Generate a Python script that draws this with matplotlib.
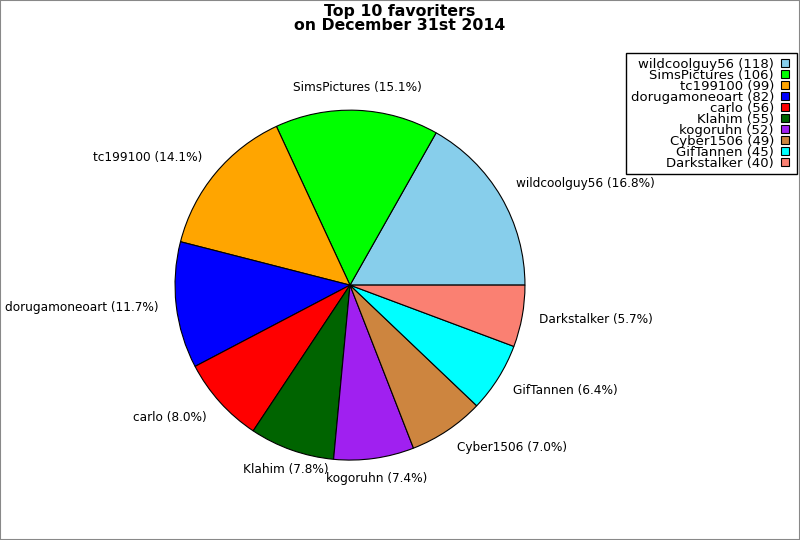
import matplotlib
matplotlib.use("Agg")
import matplotlib.pyplot as plt
from matplotlib.patches import Rectangle
from matplotlib.lines import Line2D
import numpy as np

names = ["wildcoolguy56", "SimsPictures", "tc199100", "dorugamoneoart", "carlo",
         "Klahim", "kogoruhn", "Cyber1506", "GifTannen", "Darkstalker"]
counts = [118, 106, 99, 82, 56, 55, 52, 49, 45, 40]
colors = ["#87ceeb", "#00ff00", "#ffa500", "#0000ff", "#ff0000",
          "#006400", "#a020f0", "#cd853f", "#00ffff", "#fa8072"]

total = sum(counts)
labels = [f"{n} ({c / total * 100:.1f}%)" for n, c in zip(names, counts)]

fig = plt.figure(figsize=(8, 5.4), dpi=100)
fig.patches.append(Rectangle((0, 0), 1, 1, transform=fig.transFigure, fill=False,
                             edgecolor="#888888", linewidth=1.5))
ax = fig.add_axes([0.21875, 0.148, 0.4375, 0.648])
wedges, texts = ax.pie(counts, labels=labels, colors=colors, startangle=0,
                       counterclock=True, labeldistance=1.1,
                       wedgeprops=dict(edgecolor="black", linewidth=0.8),
                       textprops=dict(fontsize=8.7))
ax.set_xlim(-1, 1)
ax.set_ylim(-1, 1)
ax.set_aspect("equal")
px = 1 / 175.0  # one pixel in data units
for w, t in zip(wedges, texts):
    t.set_clip_on(False)
    ang = np.deg2rad((w.theta1 + w.theta2) / 2)
    c, s = np.cos(ang), np.sin(ang)
    x, y = t.get_position()
    if abs(c) < 0.4:
        t.set_ha("center")
    elif c > 0:
        t.set_ha("left")
    else:
        t.set_ha("right")
    if s > 0.3:
        t.set_va("baseline")
        y += 1.5 * px
    elif s < -0.3:
        t.set_va("top")
        y += 3.5 * px
    else:
        t.set_va("center")
    t.set_position((x, y))

fig.suptitle("Top 10 favoriters\non December 31st 2014", fontsize=11.3,
             fontweight="bold", y=0.992, linespacing=0.9)

handles = [Line2D([], [], linestyle="none", marker="s", markersize=5.2,
                  markerfacecolor=col, markeredgecolor="black", markeredgewidth=0.8)
           for col in colors]
leg = fig.legend(handles, [f"{n} ({c})" for n, c in zip(names, counts)],
                 loc="upper right", bbox_to_anchor=(797 / 800, 1 - 53 / 540),
                 markerfirst=False, fontsize=9.5, labelspacing=-0.15,
                 handlelength=1.1, handleheight=0.55, handletextpad=0.3,
                 borderpad=0.35, fancybox=False, framealpha=1,
                 edgecolor="black", borderaxespad=0)
for t in leg.get_texts():
    t.set_ha("right")
leg.get_frame().set_linewidth(1)

fig.savefig("out.png", dpi=100)
